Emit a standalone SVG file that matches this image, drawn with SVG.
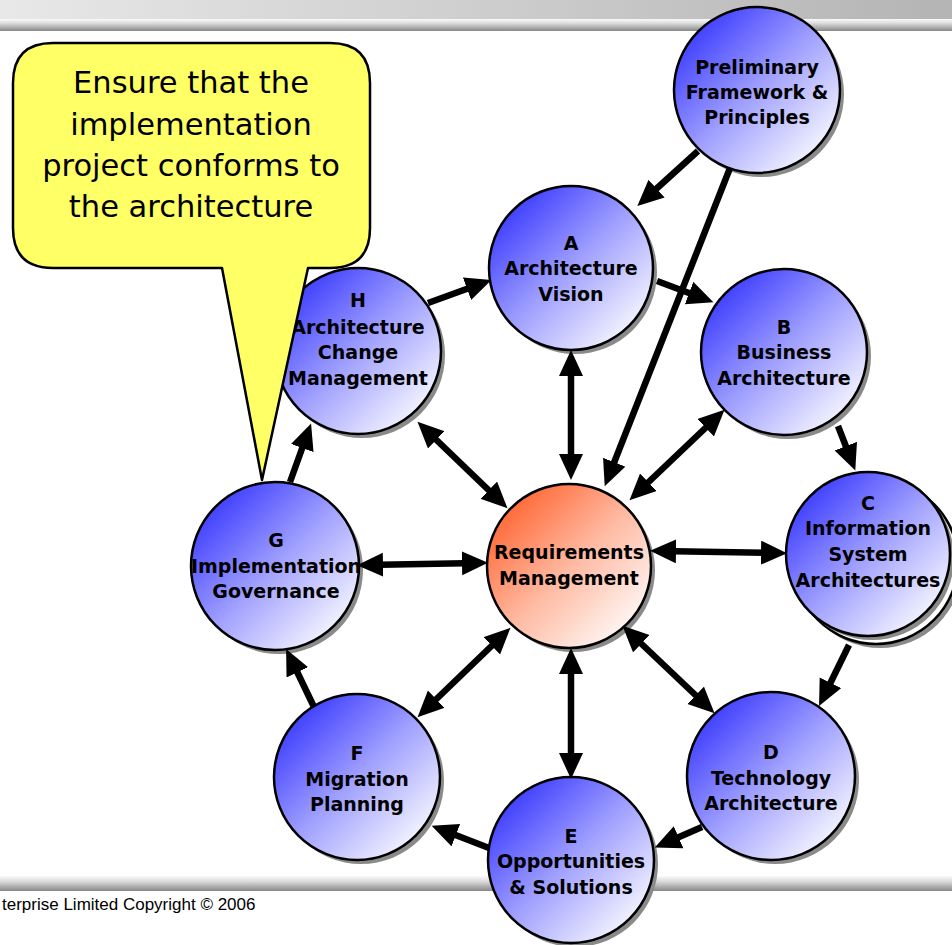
<svg xmlns="http://www.w3.org/2000/svg" width="952" height="945" viewBox="0 0 952 945">
<style>
.node{stroke:#000;stroke-width:2.5}
.blue{fill:url(#gBlue)}
.red{fill:url(#gRed)}
.shadow{fill:#8a8a8a}
.lbl{font-family:"DejaVu Sans",Verdana,sans-serif;font-weight:bold;font-size:19px;fill:#000;text-anchor:middle}
.conn line{stroke:#000;stroke-width:6.5}
.one{marker-end:url(#ah)}
.two{marker-end:url(#ah);marker-start:url(#ah)}
.call{font-family:"DejaVu Sans",Verdana,sans-serif;font-size:30.5px;fill:#000;text-anchor:middle}
</style>
<defs>
<linearGradient id="gBlue" x1="0.12" y1="0.12" x2="0.88" y2="0.88">
<stop offset="0" stop-color="#3c3cff"/>
<stop offset="0.5" stop-color="#a0a0ff"/>
<stop offset="1" stop-color="#f6f6ff"/>
</linearGradient>
<linearGradient id="gRed" x1="0.12" y1="0.12" x2="0.88" y2="0.88">
<stop offset="0" stop-color="#ff6633"/>
<stop offset="0.5" stop-color="#ffb8a0"/>
<stop offset="1" stop-color="#fff8f6"/>
</linearGradient>
<linearGradient id="gTop" x1="0" y1="0" x2="1" y2="0">
<stop offset="0" stop-color="#e8e8e8"/>
<stop offset="1" stop-color="#b4b4b4"/>
</linearGradient>
<linearGradient id="gBar" x1="0" y1="0" x2="0" y2="1">
<stop offset="0" stop-color="#fafafa"/>
<stop offset="0.35" stop-color="#dcdcdc"/>
<stop offset="1" stop-color="#888"/>
</linearGradient>
<marker id="ah" markerUnits="userSpaceOnUse" markerWidth="28" markerHeight="26" refX="17" refY="12" orient="auto-start-reverse" viewBox="0 0 28 26">
<path d="M0,0 L26,12 L0,24 z" fill="#000"/>
</marker>
</defs>

<g id="header">
<rect x="0" y="0" width="952" height="19" fill="url(#gTop)"/>
<rect x="0" y="19" width="952" height="12" fill="url(#gBar)"/>
</g>
<g id="footer-bar">
<rect x="0" y="876" width="952" height="15" fill="url(#gBar)"/>
</g>

<g id="node-prelim">
<circle class="shadow" cx="761" cy="94" r="83"/>
<circle class="node blue" cx="757" cy="90" r="83"/>
<text class="lbl" x="757" y="74">Preliminary</text>
<text class="lbl" x="757" y="99">Framework &amp;</text>
<text class="lbl" x="757" y="124">Principles</text>
</g>
<g id="node-a">
<circle class="shadow" cx="575" cy="272" r="82"/>
<circle class="node blue" cx="571" cy="268" r="82"/>
<text class="lbl" x="571" y="250">A</text>
<text class="lbl" x="571" y="275">Architecture</text>
<text class="lbl" x="571" y="301">Vision</text>
</g>
<g id="node-b">
<circle class="shadow" cx="788" cy="356" r="83"/>
<circle class="node blue" cx="784" cy="352" r="83"/>
<text class="lbl" x="784" y="334">B</text>
<text class="lbl" x="784" y="359">Business</text>
<text class="lbl" x="784" y="385">Architecture</text>
</g>
<g id="node-c">
<circle class="shadow" cx="880" cy="566" r="82"/>
<circle class="node" fill="#fff" cx="876" cy="562" r="82"/>
<circle class="shadow" cx="872" cy="558" r="82"/>
<circle class="node blue" cx="868" cy="554" r="82"/>
<text class="lbl" x="868" y="510">C</text>
<text class="lbl" x="868" y="535">Information</text>
<text class="lbl" x="868" y="561">System</text>
<text class="lbl" x="868" y="587">Architectures</text>
</g>
<g id="node-d">
<circle class="shadow" cx="775" cy="780" r="84"/>
<circle class="node blue" cx="771" cy="776" r="84"/>
<text class="lbl" x="771" y="759">D</text>
<text class="lbl" x="771" y="785">Technology</text>
<text class="lbl" x="771" y="810">Architecture</text>
</g>
<g id="node-e">
<circle class="shadow" cx="575" cy="864" r="83"/>
<circle class="node blue" cx="571" cy="860" r="83"/>
<text class="lbl" x="571" y="843">E</text>
<text class="lbl" x="571" y="868">Opportunities</text>
<text class="lbl" x="571" y="894">&amp; Solutions</text>
</g>
<g id="node-f">
<circle class="shadow" cx="361" cy="781" r="83"/>
<circle class="node blue" cx="357" cy="777" r="83"/>
<text class="lbl" x="357" y="760">F</text>
<text class="lbl" x="357" y="786">Migration</text>
<text class="lbl" x="357" y="811">Planning</text>
</g>
<g id="node-g">
<circle class="shadow" cx="279" cy="570" r="84"/>
<circle class="node blue" cx="275" cy="566" r="84"/>
<text class="lbl" x="276" y="547">G</text>
<text class="lbl" x="276" y="573">Implementation</text>
<text class="lbl" x="276" y="598">Governance</text>
</g>
<g id="node-h">
<circle class="shadow" cx="362" cy="355" r="83"/>
<circle class="node blue" cx="358" cy="351" r="83"/>
<text class="lbl" x="358" y="307">H</text>
<text class="lbl" x="358" y="334">Architecture</text>
<text class="lbl" x="358" y="359">Change</text>
<text class="lbl" x="358" y="385">Management</text>
</g>
<g id="node-req">
<circle class="shadow" cx="573" cy="570" r="82"/>
<circle class="node red" cx="569" cy="566" r="82"/>
<text class="lbl" x="569" y="559">Requirements</text>
<text class="lbl" x="569" y="585">Management</text>
</g>

<g id="connectors" class="conn">
<line class="one" x1="698" y1="151" x2="644" y2="200"/>
<line class="one" x1="730" y1="168" x2="608" y2="478"/>
<line class="one" x1="657" y1="281" x2="705" y2="299"/>
<line class="one" x1="428" y1="303" x2="483" y2="283"/>
<line class="one" x1="838" y1="426" x2="852" y2="462"/>
<line class="one" x1="849" y1="645" x2="823" y2="698"/>
<line class="one" x1="702" y1="827" x2="663" y2="844"/>
<line class="one" x1="489" y1="848" x2="440" y2="829"/>
<line class="one" x1="314" y1="707" x2="290" y2="657"/>
<line class="one" x1="290" y1="482" x2="308" y2="432"/>
<line class="two" x1="571" y1="359" x2="571" y2="471"/>
<line class="two" x1="636" y1="494" x2="718" y2="416"/>
<line class="two" x1="659" y1="551" x2="778" y2="553"/>
<line class="two" x1="629" y1="632" x2="708" y2="707"/>
<line class="two" x1="571" y1="657" x2="571" y2="770"/>
<line class="two" x1="504" y1="634" x2="424" y2="711"/>
<line class="two" x1="366" y1="565" x2="479" y2="563"/>
<line class="two" x1="424" y1="428" x2="501" y2="502"/>
</g>

<g id="callout">
<path d="M53,43 H330 Q370,43 370,83 V228 Q370,268 330,268 H308 L262,480 L222,268 H53 Q13,268 13,228 V83 Q13,43 53,43 Z" fill="#ffff66" stroke="#000" stroke-width="2.5" stroke-linejoin="round"/>
<text class="call" x="191" y="93">Ensure that the</text>
<text class="call" x="191" y="135">implementation</text>
<text class="call" x="191" y="176">project conforms to</text>
<text class="call" x="191" y="217">the architecture</text>
</g>

<g id="footer">
<text x="2" y="910" font-family="'Liberation Sans',Arial,sans-serif" font-size="17" fill="#000">terprise Limited Copyright © 2006</text>
</g>
</svg>
